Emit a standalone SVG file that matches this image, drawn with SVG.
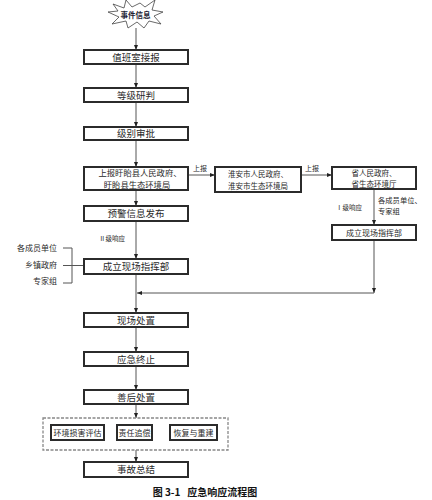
<svg xmlns="http://www.w3.org/2000/svg" width="432" height="500" viewBox="0 0 432 500">
<defs>
<marker id="arr" viewBox="0 0 10 10" refX="10" refY="5" markerWidth="5" markerHeight="5" orient="auto" markerUnits="userSpaceOnUse">
<path d="M0,1 L10,5 L0,9 Z" fill="#222"/>
</marker>
</defs>
<style>
text{font-family:"Noto Sans CJK SC","Noto Sans",sans-serif;fill:#2a2a2a}
.box{fill:#fff;stroke:#2b2b2b;stroke-width:2}
.t{font-size:9.5px;text-anchor:middle}
.s{font-size:7.5px;text-anchor:middle}
.l{font-size:7px}
.c{stroke:#555;stroke-width:1;fill:none}
.a{stroke:#555;stroke-width:1;fill:none;marker-end:url(#arr)}
</style>
<rect width="432" height="500" fill="#fff"/>

<g id="connectors">
<line class="a" x1="136" y1="28" x2="136" y2="50"/>
<line class="a" x1="136" y1="64" x2="136" y2="88"/>
<line class="a" x1="136" y1="102" x2="136" y2="127"/>
<line class="a" x1="136" y1="140" x2="136" y2="167"/>
<line class="a" x1="136" y1="190" x2="136" y2="206"/>
<line class="a" x1="136" y1="221" x2="136" y2="259"/>
<line class="a" x1="136" y1="274" x2="136" y2="313"/>
<line class="a" x1="136" y1="327" x2="136" y2="352"/>
<line class="a" x1="136" y1="366" x2="136" y2="390"/>
<line class="a" x1="136" y1="404" x2="136" y2="418"/>
<line class="a" x1="136" y1="450" x2="136" y2="462"/>
<line class="a" x1="188" y1="175" x2="215" y2="175"/>
<line class="a" x1="301" y1="175" x2="332" y2="175"/>
<line class="a" x1="374" y1="189" x2="374" y2="225"/>
<line class="a" x1="374" y1="240" x2="374" y2="293"/>
<line class="a" x1="374" y1="293" x2="137" y2="293"/>
<path class="c" d="M63,248 H72 V283 H63 M63,265.5 H84"/>
</g>

<g id="start">
<polygon points="108,12 118,11 113,4 124,8 126,0 132,7 140,3 145,7 155,0 152,10 163,12 154,16 161,24 149,21 144,28 137,22 128,28 126,21 112,24 119,17" fill="#fff" stroke="#444" stroke-width="0.8"/>
<text x="135.5" y="17.5" class="s" style="font-weight:bold;fill:#223">事件信息</text>
</g>

<g id="n1"><rect class="box" x="84" y="50" width="104" height="14"/><text class="t" x="136" y="60.5">值班室接报</text></g>
<g id="n2"><rect class="box" x="84" y="88" width="104" height="14"/><text class="t" x="136" y="98.5">等级研判</text></g>
<g id="n3"><rect class="box" x="84" y="127" width="104" height="13"/><text class="t" x="136" y="137">级别审批</text></g>
<g id="n4"><rect class="box" x="84" y="167" width="104" height="23"/><text class="t" x="140" y="175.5" style="font-size:8.3px">上报盱眙县人民政府、</text><text class="t" x="137" y="187.5" style="font-size:8.3px">盱眙县生态环境局</text></g>
<g id="n5"><rect class="box" x="84" y="206" width="104" height="15"/><text class="t" x="136" y="217">预警信息发布</text></g>
<g id="n6"><rect class="box" x="84" y="259" width="104" height="15"/><text class="t" x="136" y="270">成立现场指挥部</text></g>
<g id="n7"><rect class="box" x="84" y="313" width="104" height="14"/><text class="t" x="136" y="323.5">现场处置</text></g>
<g id="n8"><rect class="box" x="84" y="352" width="104" height="14"/><text class="t" x="136" y="362.5">应急终止</text></g>
<g id="n9"><rect class="box" x="84" y="390" width="104" height="14"/><text class="t" x="136" y="400.5">善后处置</text></g>

<g id="n10">
<rect x="43" y="418" width="185" height="32" fill="none" stroke="#888" stroke-width="1.3" stroke-dasharray="3,1.5"/>
<rect class="box" x="51" y="425" width="53" height="15"/><text class="s" x="77.5" y="435.5" style="font-size:8px">环境损害评估</text>
<rect class="box" x="117" y="425" width="35" height="15"/><text class="s" x="134.5" y="435.5" style="font-size:8px">责任追偿</text>
<rect class="box" x="170" y="425" width="47" height="15"/><text class="s" x="193.5" y="435.5" style="font-size:8px">恢复与重建</text>
</g>

<g id="n11"><rect class="box" x="84" y="462" width="104" height="15"/><text class="t" x="136" y="473">事故总结</text></g>

<g id="n12"><rect class="box" x="215" y="167" width="86" height="25"/><text class="s" x="258" y="177">淮安市人民政府、</text><text class="s" x="258" y="188.5">淮安市生态环境局</text></g>
<g id="n13"><rect class="box" x="332" y="167" width="84" height="22"/><text class="s" x="374" y="176">省人民政府、</text><text class="s" x="374" y="187">省生态环境厅</text></g>
<g id="n14"><rect class="box" x="332" y="225" width="84" height="15"/><text class="s" x="374" y="235.5" style="font-size:8px">成立现场指挥部</text></g>

<g id="labels">
<text class="l" x="193" y="171">上报</text>
<text class="l" x="305" y="171">上报</text>
<text class="l" x="99" y="241" style="font-size:6.5px">Ⅱ级响应</text>
<text class="l" x="336" y="210" style="font-size:6.5px">Ⅰ级响应</text>
<text class="l" x="378" y="203" style="font-size:7.3px">各成员单位、</text>
<text class="l" x="378" y="214" style="font-size:7.3px">专家组</text>
<text class="l" x="57" y="251" style="font-size:8px;text-anchor:end">各成员单位</text>
<text class="l" x="57" y="268" style="font-size:8px;text-anchor:end">乡镇政府</text>
<text class="l" x="57" y="284" style="font-size:8px;text-anchor:end">专家组</text>
<text x="205" y="496" style="font-size:10px;font-weight:bold;text-anchor:middle;fill:#111" xml:space="preserve">图 3-1   应急响应流程图</text>
</g>
</svg>
